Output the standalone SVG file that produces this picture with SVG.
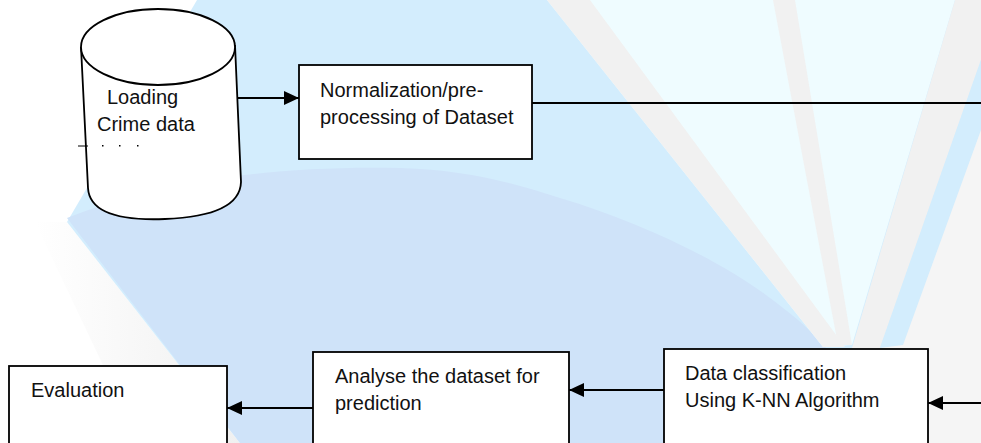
<svg xmlns="http://www.w3.org/2000/svg" width="981" height="443" viewBox="0 0 981 443">
  <style>
    .box { fill: #ffffff; stroke: #000000; stroke-width: 1.8; }
    .lbl { font-family: "Liberation Sans", Arial, sans-serif; font-size: 20px; fill: #111111; }
    .conn { stroke: #000000; stroke-width: 1.8; fill: none; }
    .stripe { fill: #f1f1f1; }
  </style>
  <defs>
    <marker id="arrow" markerUnits="userSpaceOnUse" markerWidth="16" markerHeight="14" refX="15" refY="7" orient="auto">
      <path d="M0,0 L15,7 L0,14 z" fill="#000000"/>
    </marker>
    <linearGradient id="greyFade" x1="0" y1="0" x2="1" y2="0">
      <stop offset="0" stop-color="#ffffff"/>
      <stop offset="1" stop-color="#f0f0f0"/>
    </linearGradient>
  </defs>

  <!-- background watermark -->
  <g id="background">
    <rect x="0" y="0" width="981" height="443" fill="#ffffff"/>
    <polygon points="35,222 67,222 240,443 140,443" fill="url(#greyFade)"/>
    <polygon points="197,0 981,0 981,443 240,443 67,222" fill="#d3edfd"/>
    <path d="M67,218 C150,185 260,165 400,168 C470,170 520,185 560,198 C640,222 720,260 770,298 C800,320 815,335 827,349 L827,443 L240,443 Z" fill="#cfe3f9"/>
    <polygon points="547,0 955,0 852,345 823,347" fill="#effcff"/>
    <polygon class="stripe" points="547,0 590,0 845,347 823,347"/>
    <polygon class="stripe" points="773,0 795,0 852,345 838,345"/>
    <polygon class="stripe" points="955,0 981,0 981,60 880,348 852,348"/>
    <polygon points="981,60 981,130 903,345 880,348" fill="#d3edfd"/>
    <polygon points="981,130 981,443 850,443 850,348 880,348 903,345" fill="#f5f5f5"/>
  </g>

  <g id="connectors">
    <line class="conn" x1="237" y1="98" x2="299" y2="98" marker-end="url(#arrow)"/>
    <line class="conn" x1="532" y1="103" x2="981" y2="103"/>
    <line class="conn" x1="981" y1="403" x2="928" y2="403" marker-end="url(#arrow)"/>
    <line class="conn" x1="664" y1="390" x2="569" y2="390" marker-end="url(#arrow)"/>
    <line class="conn" x1="313" y1="408" x2="227" y2="408" marker-end="url(#arrow)"/>
  </g>

  <g id="node-crime-data">
    <path class="box" d="M81,47 L88,188 Q90,222 165,219 Q240,216 241,182 L235,45"/>
    <ellipse class="box" cx="158" cy="47" rx="77" ry="38"/>
    <text class="lbl" x="107" y="104">Loading</text>
    <text class="lbl" x="97" y="131">Crime data</text>
    <line x1="78" y1="146" x2="88" y2="146" stroke="#000" stroke-width="1"/>
    <rect x="102" y="145" width="1.5" height="1.5" fill="#000"/>
    <rect x="119" y="145" width="1.5" height="1.5" fill="#000"/>
    <rect x="137" y="145" width="1.5" height="1.5" fill="#000"/>
  </g>

  <g id="node-normalization">
    <rect class="box" x="299" y="65" width="233" height="94"/>
    <text class="lbl" x="320" y="97">Normalization/pre-</text>
    <text class="lbl" x="320" y="124">processing of Dataset</text>
  </g>

  <g id="node-classification">
    <rect class="box" x="664" y="349" width="264" height="110"/>
    <text class="lbl" x="685" y="380">Data classification</text>
    <text class="lbl" x="685" y="407">Using K-NN Algorithm</text>
  </g>

  <g id="node-analyse">
    <rect class="box" x="313" y="352" width="256" height="110"/>
    <text class="lbl" x="335" y="383">Analyse the dataset for</text>
    <text class="lbl" x="335" y="410">prediction</text>
  </g>

  <g id="node-evaluation">
    <rect class="box" x="9" y="366" width="218" height="100"/>
    <text class="lbl" x="31" y="397">Evaluation</text>
  </g>
</svg>
